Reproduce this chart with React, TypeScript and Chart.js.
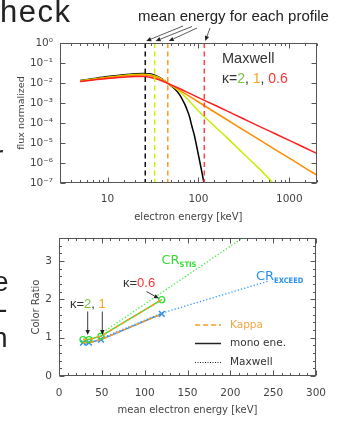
import React, { useEffect, useRef } from "react";
import { Chart, registerables } from "chart.js";

Chart.register(...registerables);

// ---------------- Top panel: normalized flux spectra (log-log) ----------------
const maxwellEnergy = [5, 7, 10, 15, 20, 25, 30, 35, 40, 46, 55, 62, 70, 74, 80, 84, 90, 95, 100, 108, 115];
const maxwellLogFlux = [-1.88, -1.78, -1.68, -1.59, -1.54, -1.52, -1.55, -1.66, -1.8, -2.02, -2.3, -2.58, -3.02, -3.27, -3.7, -4.1, -4.6, -5.1, -5.6, -6.35, -7.0];

const kappa2Energy = [5, 7, 10, 15, 20, 25, 30, 35, 40, 46, 55, 63, 80, 100, 150, 200, 300, 400, 500, 660];
const kappa2LogFlux = [-1.9, -1.8, -1.71, -1.62, -1.57, -1.56, -1.6, -1.69, -1.82, -2.02, -2.25, -2.45, -2.92, -3.4, -4.15, -4.68, -5.45, -6.0, -6.42, -7.0];

const kappa1Energy = [5, 7, 10, 15, 20, 25, 30, 35, 40, 46, 60, 80, 100, 150, 200, 300, 500, 700, 1000, 1500, 2000];
const kappa1LogFlux = [-1.92, -1.82, -1.73, -1.65, -1.61, -1.6, -1.64, -1.72, -1.84, -2.02, -2.32, -2.67, -2.95, -3.45, -3.8, -4.3, -4.92, -5.33, -5.76, -6.26, -6.6];

const kappa06Energy = [5, 7, 10, 15, 20, 25, 30, 35, 40, 46, 60, 80, 100, 150, 200, 300, 500, 700, 1000, 1500, 2000];
const kappa06LogFlux = [-1.93, -1.85, -1.77, -1.71, -1.68, -1.68, -1.72, -1.8, -1.9, -2.02, -2.25, -2.52, -2.73, -3.1, -3.37, -3.75, -4.23, -4.54, -4.87, -5.25, -5.52];

const meanEnergies = [26, 33, 46, 116];
const meanColors = ["#111111", "#ccee00", "#ff9922", "#ff4444"];

const topXTickValues = [10, 100, 1000];
const topXTickLabels = ["10", "100", "1000"];
const topYTickValues = [1e-7, 1e-6, 1e-5, 1e-4, 1e-3, 1e-2, 1e-1, 1];
const topYTickLabels = ["10⁻⁷", "10⁻⁶", "10⁻⁵", "10⁻⁴", "10⁻³", "10⁻²", "10⁻¹", "10⁰"];

// ---------------- Bottom panel: color ratio vs mean energy ----------------
const meanEnergyPoints = [28, 35, 49, 120];
const stisRatio = [0.95, 0.95, 1.04, 1.99];
const exceedRatio = [0.87, 0.87, 0.95, 1.62];
const stisMaxwellEnergy = [48, 250];
const stisMaxwellRatio = [1.09, 4.14];
const exceedMaxwellEnergy = [49, 120, 245];
const exceedMaxwellRatio = [0.98, 1.64, 2.48];

const bottomXTickValues = [0, 50, 100, 150, 200, 250, 300];
const bottomXTickLabels = ["0", "50", "100", "150", "200", "250", "300"];
const bottomYTickValues = [0, 1, 2, 3];
const bottomYTickLabels = ["0", "1", "2", "3"];

// ---------------- helpers ----------------
const AXIS_FONT = '"DejaVu Sans", sans-serif';
const SLIDE_FONT = '"Liberation Sans", Arial, sans-serif';
const AXIS_COLOR = "#555";
const LABEL_COLOR = "#444";

function logLabel(v: number, values: number[], labels: string[]) {
  for (let i = 0; i < values.length; i++) {
    if (Math.abs(Math.log10(v) - Math.log10(values[i])) < 1e-6) return labels[i];
  }
  return "";
}
function linLabel(v: number, values: number[], labels: string[]) {
  for (let i = 0; i < values.length; i++) {
    if (Math.abs(v - values[i]) < 1e-6) return labels[i];
  }
  return "";
}

function drawFrame(chart: any, yMinor: boolean, xMinor: boolean) {
  const { ctx, chartArea: a, scales } = chart;
  const x = scales.x;
  const y = scales.y;
  const L = Math.round(a.left) + 0.5;
  const R = Math.round(a.right) - 0.5;
  const T = Math.round(a.top) + 0.5;
  const B = Math.round(a.bottom) - 0.5;
  ctx.save();
  ctx.strokeStyle = AXIS_COLOR;
  ctx.lineWidth = 1;
  ctx.strokeRect(L, T, R - L, B - T);
  ctx.beginPath();
  for (const t of x.ticks) {
    const major = t.label !== "" && t.label != null;
    if (!major && !xMinor) continue;
    const len = major ? 5 : 2.5;
    const px = Math.round(x.getPixelForValue(t.value)) + 0.5;
    if (px < L - 1 || px > R + 1) continue;
    ctx.moveTo(px, B);
    ctx.lineTo(px, B - len);
    ctx.moveTo(px, T);
    ctx.lineTo(px, T + len);
  }
  for (const t of y.ticks) {
    const major = t.label !== "" && t.label != null;
    if (!major && !yMinor) continue;
    const len = major ? 5 : 2.5;
    const py = Math.round(y.getPixelForValue(t.value)) + 0.5;
    if (py < T - 1 || py > B + 1) continue;
    ctx.moveTo(L, py);
    ctx.lineTo(L + len, py);
    ctx.moveTo(R, py);
    ctx.lineTo(R - len, py);
  }
  ctx.stroke();
  ctx.restore();
}

function drawArrow(ctx: CanvasRenderingContext2D, x1: number, y1: number, x2: number, y2: number, head = 6, half = 2.5) {
  const ang = Math.atan2(y2 - y1, x2 - x1);
  const bx = x2 - head * Math.cos(ang);
  const by = y2 - head * Math.sin(ang);
  ctx.beginPath();
  ctx.moveTo(x1, y1);
  ctx.lineTo(bx, by);
  ctx.stroke();
  ctx.beginPath();
  ctx.moveTo(x2, y2);
  ctx.lineTo(bx + half * Math.sin(ang), by - half * Math.cos(ang));
  ctx.lineTo(bx - half * Math.sin(ang), by + half * Math.cos(ang));
  ctx.closePath();
  ctx.fill();
}

function drawSegments(ctx: CanvasRenderingContext2D, x: number, y: number, segs: [string, string][]) {
  let cx = x;
  for (const [t, c] of segs) {
    ctx.fillStyle = c;
    ctx.fillText(t, cx, y);
    cx += ctx.measureText(t).width;
  }
}

const toPoints = (xs: number[], logs: number[]) => xs.map((e, i) => ({ x: e, y: Math.pow(10, logs[i]) }));
const toLinPoints = (xs: number[], ys: number[]) => xs.map((e, i) => ({ x: e, y: ys[i] }));

// ---------------- plugins ----------------
const topPlugin = {
  id: "topDecor",
  afterDatasetsDraw(chart: any) {
    const { ctx, chartArea: a, scales } = chart;
    ctx.save();
    ctx.lineWidth = 1.5;
    ctx.setLineDash([5, 3.5]);
    meanEnergies.forEach((e, i) => {
      const px = scales.x.getPixelForValue(e);
      ctx.strokeStyle = meanColors[i];
      ctx.beginPath();
      ctx.moveTo(px, a.top);
      ctx.lineTo(px, a.bottom);
      ctx.stroke();
    });
    ctx.restore();
  },
  afterDraw(chart: any) {
    drawFrame(chart, false, true);
    const { ctx, chartArea: a, scales } = chart;
    ctx.save();
    // slide title fragment and stray slide text
    ctx.fillStyle = "#222";
    ctx.textBaseline = "alphabetic";
    ctx.font = `31px ${SLIDE_FONT}`;
    (ctx as any).letterSpacing = "1.5px";
    ctx.fillText("heck", 0, 22);
    (ctx as any).letterSpacing = "0px";
    ctx.font = `28px ${SLIDE_FONT}`;
    ctx.fillText("r", -6, 165);
    ctx.fillText("e", -7, 291);
    ctx.fillText("-", -2, 318);
    ctx.fillText("n", -8, 347);

    // annotation text and arrows
    ctx.font = `15px ${SLIDE_FONT}`;
    ctx.fillStyle = "#222";
    ctx.fillText("mean energy for each profile", 138, 21);
    ctx.strokeStyle = "#333";
    ctx.fillStyle = "#222";
    ctx.lineWidth = 0.8;
    const starts = [[183, 26], [192, 26.5], [197, 28], [210, 28]];
    meanEnergies.forEach((e, i) => {
      const px = scales.x.getPixelForValue(e);
      drawArrow(ctx, starts[i][0], starts[i][1], px + 1, a.top - 2, 5, 2.2);
    });

    // in-plot legend text
    ctx.font = `14.5px ${SLIDE_FONT}`;
    ctx.fillStyle = "#333";
    ctx.fillText("Maxwell", 222, 63);
    ctx.font = `14px ${SLIDE_FONT}`;
    drawSegments(ctx, 222, 83, [
      ["κ=", "#333"],
      ["2", "#7dc242"],
      [", ", "#333"],
      ["1", "#f5a623"],
      [", ", "#333"],
      ["0.6", "#ff3333"],
    ]);
    ctx.restore();
  },
};

const bottomPlugin = {
  id: "bottomDecor",
  afterDraw(chart: any) {
    drawFrame(chart, true, true);
    const { ctx } = chart;
    ctx.save();
    ctx.textBaseline = "alphabetic";
    // CR labels
    ctx.font = `13px ${AXIS_FONT}`;
    ctx.fillStyle = "#33dd33";
    ctx.fillText("CR", 161.5, 264);
    let w = ctx.measureText("CR").width;
    ctx.font = `bold 7.5px "DejaVu Sans Condensed", ${AXIS_FONT}`;
    ctx.fillText("STIS", 161.5 + w, 267);
    ctx.font = `13px ${AXIS_FONT}`;
    ctx.fillStyle = "#2a8ff0";
    ctx.fillText("CR", 256, 280);
    w = ctx.measureText("CR").width;
    ctx.font = `bold 7.5px "DejaVu Sans Condensed", ${AXIS_FONT}`;
    ctx.fillText("EXCEED", 256 + w, 283);

    // kappa annotations
    ctx.font = `13px ${SLIDE_FONT}`;
    drawSegments(ctx, 123, 287, [
      ["κ=", "#333"],
      ["0.6", "#ff3333"],
    ]);
    drawSegments(ctx, 70, 308, [
      ["κ=", "#333"],
      ["2", "#7dc242"],
      [", ", "#333"],
      ["1", "#f5a623"],
    ]);
    ctx.strokeStyle = "#222";
    ctx.fillStyle = "#222";
    ctx.lineWidth = 0.9;
    drawArrow(ctx, 146.5, 291.5, 159, 298.5, 5, 2.2);
    drawArrow(ctx, 87.7, 311.5, 87.7, 335, 5, 2.2);
    drawArrow(ctx, 102.3, 311.5, 102.3, 335, 5, 2.2);

    // legend
    const lx1 = 195;
    const lx2 = 221;
    const tx = 230;
    ctx.font = `10.5px ${AXIS_FONT}`;
    ctx.textBaseline = "middle";
    ctx.lineWidth = 1.5;
    ctx.strokeStyle = "#ff9a20";
    ctx.setLineDash([5, 3]);
    ctx.beginPath();
    ctx.moveTo(lx1, 325);
    ctx.lineTo(lx2, 325);
    ctx.stroke();
    ctx.fillStyle = "#f5a742";
    ctx.fillText("Kappa", tx, 325);
    ctx.setLineDash([]);
    ctx.strokeStyle = "#222";
    ctx.beginPath();
    ctx.moveTo(lx1, 343.5);
    ctx.lineTo(lx2, 343.5);
    ctx.stroke();
    ctx.fillStyle = "#333";
    ctx.fillText("mono ene.", tx, 343.5);
    ctx.lineWidth = 1;
    ctx.setLineDash([1, 1.5]);
    ctx.beginPath();
    ctx.moveTo(lx1, 362.5);
    ctx.lineTo(lx2, 362.5);
    ctx.stroke();
    ctx.setLineDash([]);
    ctx.fillText("Maxwell", tx, 362.5);
    ctx.restore();
  },
};

// ---------------- configs ----------------
function topConfig(): any {
  const tickFont = { family: AXIS_FONT, size: 10.5 };
  const line = (data: any[], color: string) => ({
    data,
    borderColor: color,
    borderWidth: 1.5,
    pointRadius: 0,
    fill: false,
    cubicInterpolationMode: "monotone",
  });
  return {
    type: "line",
    data: {
      datasets: [
        line(toPoints(kappa06Energy, kappa06LogFlux), "#ff2020"),
        line(toPoints(kappa1Energy, kappa1LogFlux), "#ff8c00"),
        line(toPoints(kappa2Energy, kappa2LogFlux), "#c4f000"),
        line(toPoints(maxwellEnergy, maxwellLogFlux), "#000000"),
      ],
    },
    options: {
      animation: false,
      responsive: false,
      events: [],
      layout: { padding: { left: 0, right: 29.3, top: 43, bottom: 199 } },
      plugins: { legend: { display: false }, tooltip: { enabled: false } },
      scales: {
        x: {
          type: "logarithmic",
          min: 3,
          max: 2000,
          grid: { display: false, drawTicks: false },
          border: { display: false },
          ticks: {
            autoSkip: false,
            maxRotation: 0,
            padding: 10,
            color: LABEL_COLOR,
            font: tickFont,
            callback: (v: number) => logLabel(v, topXTickValues, topXTickLabels),
          },
          title: {
            display: true,
            text: "electron energy [keV]",
            color: LABEL_COLOR,
            font: { family: AXIS_FONT, size: 10 },
            padding: { top: 0, bottom: 0 },
          },
          afterFit: (s: any) => {
            s.height = 40;
          },
        },
        y: {
          type: "logarithmic",
          min: 1e-7,
          max: 1,
          grid: { display: false, drawTicks: false },
          border: { display: false },
          ticks: {
            autoSkip: false,
            padding: 7,
            color: LABEL_COLOR,
            font: tickFont,
            callback: (v: number) => logLabel(v, topYTickValues, topYTickLabels),
          },
          title: {
            display: true,
            text: "flux normalized",
            color: LABEL_COLOR,
            font: { family: AXIS_FONT, size: 9.5 },
            padding: { top: 16, bottom: 0 },
          },
          afterFit: (s: any) => {
            s.width = 60;
          },
        },
      },
    },
    plugins: [topPlugin],
  };
}

function bottomConfig(): any {
  const tickFont = { family: AXIS_FONT, size: 10.5 };
  return {
    type: "scatter",
    data: {
      datasets: [
        {
          data: toLinPoints(meanEnergyPoints, stisRatio),
          showLine: true,
          borderColor: "#ff9a20",
          borderWidth: 1.5,
          borderDash: [4, 3],
          pointRadius: 0,
        },
        {
          data: toLinPoints(meanEnergyPoints, exceedRatio),
          showLine: true,
          borderColor: "#ff9a20",
          borderWidth: 1.5,
          borderDash: [4, 3],
          pointRadius: 0,
        },
        {
          data: toLinPoints(meanEnergyPoints, stisRatio),
          showLine: true,
          borderColor: "#33dd33",
          borderWidth: 1.5,
          pointStyle: "circle",
          pointRadius: 3,
          pointBorderWidth: 1.3,
          pointBorderColor: "#33dd33",
          pointBackgroundColor: "rgba(0,0,0,0)",
        },
        {
          data: toLinPoints(meanEnergyPoints, exceedRatio),
          showLine: true,
          borderColor: "#2a8ff0",
          borderWidth: 1.5,
          pointStyle: "crossRot",
          pointRadius: 4,
          pointBorderWidth: 1.5,
          pointBorderColor: "#2a8ff0",
        },
        {
          data: toLinPoints(stisMaxwellEnergy, stisMaxwellRatio),
          showLine: true,
          borderColor: "#44ee44",
          borderWidth: 1.3,
          borderDash: [1.3, 2],
          pointRadius: 0,
        },
        {
          data: toLinPoints(exceedMaxwellEnergy, exceedMaxwellRatio),
          showLine: true,
          borderColor: "#3399ff",
          borderWidth: 1.3,
          borderDash: [1.3, 2],
          pointRadius: 0,
        },
      ],
    },
    options: {
      animation: false,
      responsive: false,
      events: [],
      layout: { padding: { left: 0, right: 30, top: 238, bottom: 0 } },
      plugins: { legend: { display: false }, tooltip: { enabled: false } },
      scales: {
        x: {
          type: "linear",
          min: 0,
          max: 300,
          grid: { display: false, drawTicks: false },
          border: { display: false },
          ticks: {
            stepSize: 10,
            autoSkip: false,
            maxRotation: 0,
            padding: 11,
            color: LABEL_COLOR,
            font: tickFont,
            callback: (v: number) => linLabel(v, bottomXTickValues, bottomXTickLabels),
          },
          title: {
            display: true,
            text: "mean electron energy [keV]",
            color: LABEL_COLOR,
            font: { family: AXIS_FONT, size: 10 },
            padding: { top: 0, bottom: 6 },
          },
          afterFit: (s: any) => {
            s.height = 46;
          },
        },
        y: {
          type: "linear",
          min: 0,
          max: 3.6,
          grid: { display: false, drawTicks: false },
          border: { display: false },
          ticks: {
            stepSize: 0.2,
            autoSkip: false,
            padding: 7,
            color: LABEL_COLOR,
            font: tickFont,
            callback: (v: number) => linLabel(v, bottomYTickValues, bottomYTickLabels),
          },
          title: {
            display: true,
            text: "Color Ratio",
            color: LABEL_COLOR,
            font: { family: AXIS_FONT, size: 10 },
            padding: { top: 30, bottom: 0 },
          },
          afterFit: (s: any) => {
            s.width = 59;
          },
        },
      },
    },
    plugins: [bottomPlugin],
  };
}

export default function App() {
  const topRef = useRef<HTMLCanvasElement>(null);
  const botRef = useRef<HTMLCanvasElement>(null);
  useEffect(() => {
    const top = new Chart(topRef.current as HTMLCanvasElement, topConfig());
    const bot = new Chart(botRef.current as HTMLCanvasElement, bottomConfig());
    return () => {
      top.destroy();
      bot.destroy();
    };
  }, []);
  return (
    <div style={{ position: "absolute", left: 0, top: 0, width: 346, height: 422, overflow: "hidden", background: "#fff" }}>
      <canvas ref={topRef} width={346} height={422} style={{ position: "absolute", left: 0, top: 0 }} />
      <canvas ref={botRef} width={346} height={422} style={{ position: "absolute", left: 0, top: 0 }} />
    </div>
  );
}
